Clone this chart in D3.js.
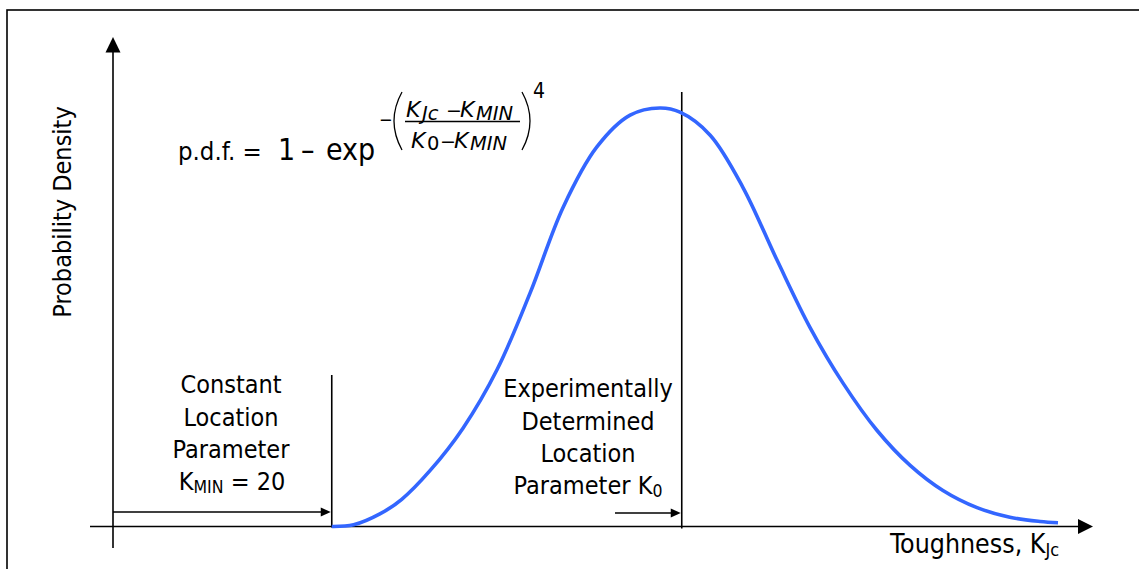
<!DOCTYPE html>
<html>
<head>
<meta charset="utf-8">
<script src="https://cdn.jsdelivr.net/npm/d3@7"></script>
<style>
  body { margin: 0; background: #fff; }
  svg text { font-family: "DejaVu Sans Condensed", "DejaVu Sans", sans-serif; fill: #000; }
  svg text.math { font-family: "DejaVu Sans", sans-serif; }
</style>
</head>
<body>
<svg id="chart" width="1139" height="569"></svg>
<script>
// curve: toughness vs relative density (peak = 1)
const toughness = [20, 25, 31, 36, 42.5, 50, 57.8, 65.3, 72.9, 80.6, 88.2, 95, 99.6, 106.5, 114, 121.8, 129.3, 136.9, 144.6, 152.2, 159.7, 167.5, 175, 181.9, 186];
const density   = [0, 0.004, 0.03, 0.065, 0.134, 0.235, 0.375, 0.557, 0.763, 0.907, 0.983, 1.0, 0.99, 0.935, 0.81, 0.636, 0.476, 0.342, 0.230, 0.146, 0.086, 0.045, 0.022, 0.012, 0.009];
const kMin = 20;
const k0 = 100;
const xDomain = [-30, 194];
const yDomain = [0, 1];

const svg = d3.select("#chart");

const x = d3.scaleLinear().domain(xDomain).range([113, 1093]);
const y = d3.scaleLinear().domain(yDomain).range([526.5, 108]);

// outer frame (runs off the right and bottom edge)
svg.append("rect")
    .attr("x", 7).attr("y", 10)
    .attr("width", 1150).attr("height", 580)
    .style("fill", "none").style("stroke", "#000").style("stroke-width", 1.6);

// axes ----------
const axisY = x(xDomain[0]);
const axisX = y(0);

svg.append("line")
    .attr("x1", axisY).attr("y1", 548)
    .attr("x2", axisY).attr("y2", 50)
    .style("stroke", "#000").style("stroke-width", 1.6);
svg.append("path")
    .attr("d", `M${axisY},37 L${axisY - 7.5},52.5 L${axisY + 7.5},52.5 Z`)
    .style("fill", "#000");

svg.append("line")
    .attr("x1", 90).attr("y1", axisX)
    .attr("x2", 1080).attr("y2", axisX)
    .style("stroke", "#000").style("stroke-width", 1.6);
svg.append("path")
    .attr("d", `M${x(xDomain[1])},${axisX} L${x(xDomain[1]) - 15},${axisX - 7.5} L${x(xDomain[1]) - 15},${axisX + 7.5} Z`)
    .style("fill", "#000");

// location parameter lines
svg.append("line")
    .attr("x1", x(kMin)).attr("y1", 375)
    .attr("x2", x(kMin)).attr("y2", 527.5)
    .style("stroke", "#000").style("stroke-width", 1.6);
svg.append("line")
    .attr("x1", x(k0)).attr("y1", 92)
    .attr("x2", x(k0)).attr("y2", 528.5)
    .style("stroke", "#000").style("stroke-width", 1.6);

// small arrows
function arrow(x1, x2, yy) {
    svg.append("line")
        .attr("x1", x1).attr("y1", yy)
        .attr("x2", x2 - 8).attr("y2", yy)
        .style("stroke", "#000").style("stroke-width", 1.6);
    svg.append("path")
        .attr("d", `M${x2},${yy} L${x2 - 10},${yy - 4.5} L${x2 - 10},${yy + 4.5} Z`)
        .style("fill", "#000");
}
arrow(axisY, x(kMin) - 1, 512);
arrow(615, x(k0) - 1, 513);

// curve ----------
const line = d3.line()
    .x((d, i) => x(toughness[i]))
    .y(d => y(d))
    .curve(d3.curveCatmullRom.alpha(0.5));

svg.append("path")
    .datum(density)
    .attr("d", line)
    .style("fill", "none")
    .style("stroke", "#3366ff")
    .style("stroke-width", 3.6)
    .style("stroke-linecap", "butt");

// text helpers ----------
function rich(xx, yy, runs, anchor, cls) {
    const t = svg.append("text")
        .attr("x", xx).attr("y", yy)
        .attr("text-anchor", anchor || "start");
    if (cls) t.attr("class", cls);
    runs.forEach(r => {
        const s = t.append("tspan").text(r.t).style("font-size", r.size + "px");
        if (r.dy) s.attr("dy", r.dy);
        if (r.x !== undefined) s.attr("x", r.x);
        if (r.italic) s.style("font-style", "italic");
    });
    return t;
}

// y label
svg.append("text")
    .attr("transform", "translate(71,212) rotate(-90)")
    .attr("text-anchor", "middle")
    .style("font-size", "25px")
    .text("Probability Density");

// x label
rich(890, 553, [
    { t: "Toughness, K", size: 26.5 },
    { t: "Jc", size: 18, dy: 3 }
]);

// K_MIN block
["Constant", "Location", "Parameter"].forEach((s, i) => {
    svg.append("text")
        .attr("x", 231).attr("y", 393 + i * 32.5)
        .attr("text-anchor", "middle")
        .style("font-size", "25px")
        .text(s);
});
rich(232, 490, [
    { t: "K", size: 25 },
    { t: "MIN", size: 17.5, dy: 3 },
    { t: " = 20", size: 25, dy: -3 }
], "middle");

// K0 block
["Experimentally", "Determined", "Location"].forEach((s, i) => {
    svg.append("text")
        .attr("x", 588).attr("y", 397 + i * 32.5)
        .attr("text-anchor", "middle")
        .style("font-size", "25px")
        .text(s);
});
rich(588, 494, [
    { t: "Parameter K", size: 25 },
    { t: "0", size: 17.5, dy: 3 }
], "middle");

// formula ----------
rich(178, 160, [
    { t: "p.d.f. =", size: 25.5 },
    { t: "1", size: 30, x: 278 },
    { t: "\u2013", size: 30, x: 301 },
    { t: "exp", size: 30, x: 326 }
]);

svg.append("text")
    .attr("x", 379).attr("y", 126)
    .style("font-size", "18px")
    .text("\u2212");

// parentheses
svg.append("path")
    .attr("d", "M402,92 Q386,121 402,150")
    .style("fill", "none").style("stroke", "#000").style("stroke-width", 1.3);
svg.append("path")
    .attr("d", "M522,92 Q538,121 522,150")
    .style("fill", "none").style("stroke", "#000").style("stroke-width", 1.3);

// fraction bar
svg.append("line")
    .attr("x1", 405).attr("y1", 121.5)
    .attr("x2", 520).attr("y2", 121.5)
    .style("stroke", "#000").style("stroke-width", 1.3);

rich(406, 116.5, [
    { t: "K", size: 22, italic: true },
    { t: "Jc", size: 19.5, italic: true, x: 422, dy: 3 },
    { t: "\u2212", size: 19, x: 446, dy: -3 },
    { t: "K", size: 22, italic: true, x: 460 },
    { t: "MIN", size: 19.5, italic: true, x: 476, dy: 3 }
], "start", "math");
rich(411, 148, [
    { t: "K", size: 22, italic: true },
    { t: "0", size: 19.5, x: 427, dy: 2 },
    { t: "\u2212", size: 19, x: 440, dy: -2 },
    { t: "K", size: 22, italic: true, x: 454 },
    { t: "MIN", size: 19.5, italic: true, x: 470, dy: 2 }
], "start", "math");

svg.append("text")
    .attr("x", 533).attr("y", 98)
    .style("font-size", "21px")
    .text("4");
</script>
</body>
</html>
